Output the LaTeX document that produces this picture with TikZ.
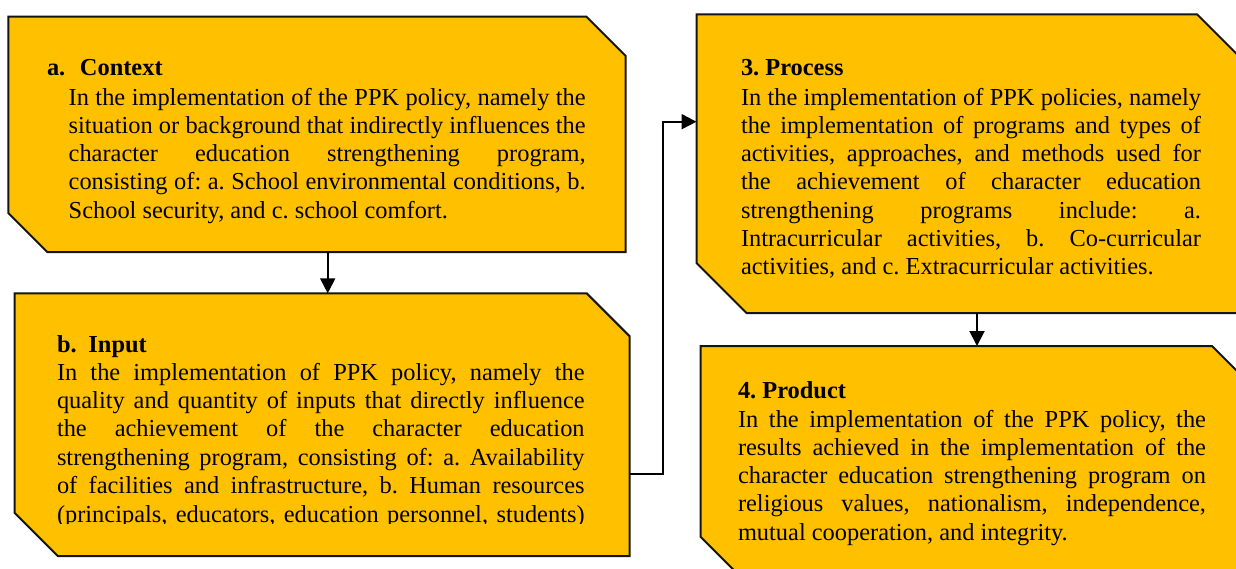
\documentclass[tikz,border=0pt]{standalone}
\usepackage{fontspec}
\setmainfont{Liberation Serif}
\usetikzlibrary{arrows.meta}
\definecolor{gold}{RGB}{255,192,0}
\definecolor{edgecol}{RGB}{20,20,20}
\tikzset{
  frame/.style={draw=none, inner sep=0pt, outer sep=0pt, anchor=north west},
  snip/.style={fill=gold, draw=edgecol, line width=2pt, line join=miter},
  body/.style={inner sep=0pt, outer sep=0pt, anchor=base west, font=\fontsize{24.4}{28.3}\selectfont\frenchspacing},
  head/.style={body, font=\bfseries\fontsize{24.4}{28.3}\selectfont\frenchspacing},
  arr/.style={draw=black, line width=2pt, line join=miter, -{Triangle[length=15pt,width=15pt]}},
}
\newcommand\snipshape[2]{\path[snip] (#1.north west) -- ([xshift=-#2pt]#1.north east) -- ([yshift=-#2pt]#1.north east) -- (#1.south east) -- ([xshift=#2pt]#1.south west) -- ([yshift=#2pt]#1.south west) -- cycle;}
\begin{document}
\begin{tikzpicture}[x=1pt,y=-1pt]
\useasboundingbox (0,0) rectangle (1236,568);
% frames
\node[frame, minimum width=617.2pt, minimum height=235.3pt] (A) at (8.3,16.7) {};
\node[frame, minimum width=615pt, minimum height=262.7pt] (B) at (14.7,293.3) {};
\node[frame, minimum width=550.5pt, minimum height=298.7pt] (C) at (696.5,14.3) {};
\node[frame, minimum width=549.3pt, minimum height=229pt] (D) at (700.7,346) {};
\snipshape{A}{39}
\snipshape{B}{43}
\snipshape{C}{50}
\snipshape{D}{38}
% Box A text
\node[head] (Ah) at (47,75) {\makebox[33pt][l]{a.}Context};
\node[body] (Ab) at (68.7,105) {\vtop{\baselineskip=28.25pt
\hbox to 517pt{In the implementation of the PPK policy, namely the}
\hbox to 517pt{situation or background that indirectly influences the}
\hbox to 517pt{character education strengthening program,}
\hbox to 517pt{consisting of: a. School environmental conditions, b.}
\hbox{School security, and c. school comfort.}}};
% Box B text
\node[head] (Bh) at (57,352.7) {\makebox[31.5pt][l]{b.}Input};
\begin{scope}
\clip (0,300) rectangle (660,523.5);
\node[body] (Bb) at (57,380) {\vtop{\baselineskip=28.4pt
\hbox to 527.6pt{In the implementation of PPK policy, namely the}
\hbox to 527.6pt{quality and quantity of inputs that directly influence}
\hbox to 527.6pt{the achievement of the character education}
\hbox to 527.6pt{strengthening program, consisting of: a. Availability}
\hbox to 527.6pt{of facilities and infrastructure, b. Human resources}
\hbox to 527.6pt{(principals, educators, education personnel, students)}}};
\end{scope}
% Box C text
\node[head] (Ch) at (741,75) {3. Process};
\node[body] (Cb) at (741,105) {\vtop{\baselineskip=28.33pt
\hbox to 460pt{In the implementation of PPK policies, namely}
\hbox to 460pt{the implementation of programs and types of}
\hbox to 460pt{activities, approaches, and methods used for}
\hbox to 460pt{the achievement of character education}
\hbox to 460pt{strengthening programs include: a.}
\hbox to 460pt{Intracurricular activities, b. Co-curricular}
\hbox{activities, and c. Extracurricular activities.}}};
% Box D text
\node[head] (Dh) at (738,398) {4. Product};
\node[body] (Db) at (738,427) {\vtop{\baselineskip=28.25pt
\hbox to 468pt{In the implementation of the PPK policy, the}
\hbox to 468pt{results achieved in the implementation of the}
\hbox to 468pt{character education strengthening program on}
\hbox to 468pt{religious values, nationalism, independence,}
\hbox{mutual cooperation, and integrity.}}};
% connectors
\coordinate (xab) at (327.7,0);
\draw[arr] (A.south -| xab) -- (B.north -| xab);
\coordinate (ybc) at (0,473.5);
\coordinate (bcturn) at (663.3,121.7);
\draw[arr] (B.east |- ybc) -| (bcturn) -- (C.west |- bcturn);
\coordinate (xcd) at (977,0);
\draw[arr] (C.south -| xcd) -- (D.north -| xcd);
\end{tikzpicture}
\end{document}
